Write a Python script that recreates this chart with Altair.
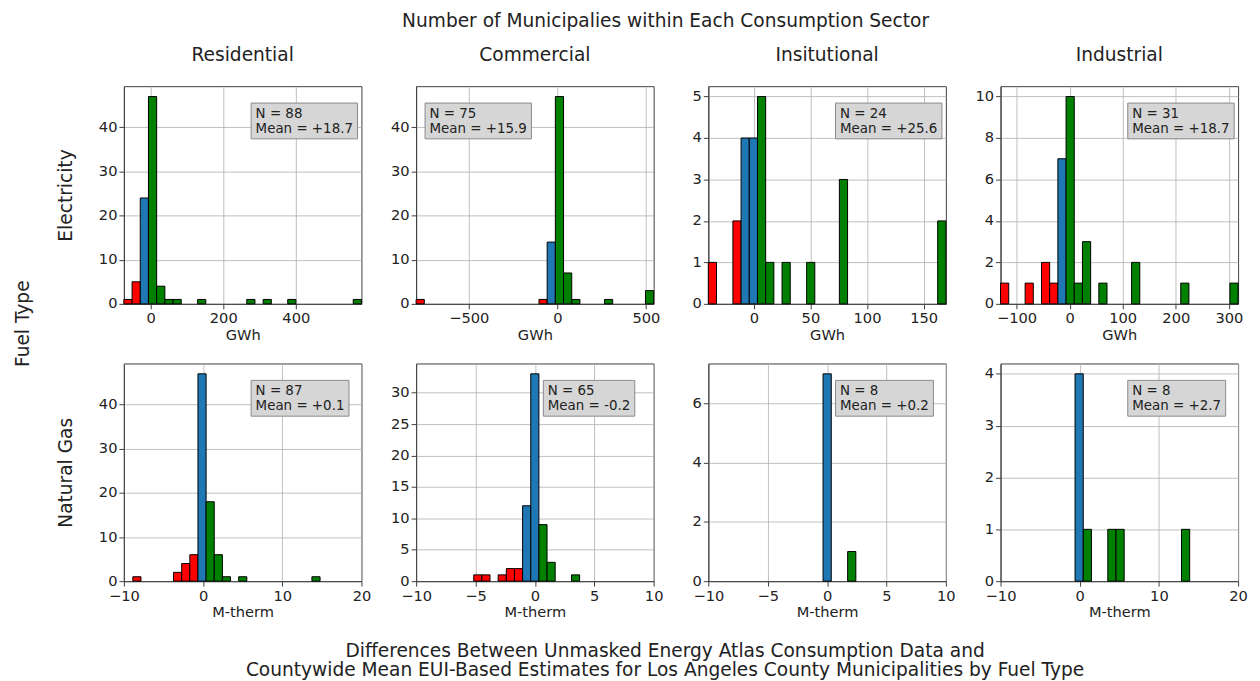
import altair as alt
import pandas as pd

FONT = "DejaVu Sans"
TXT = "#222222"

suptitle = "Number of Municipalies within Each Consumption Sector"
xlabel_lines = [
    "Differences Between Unmasked Energy Atlas Consumption Data and",
    "Countywide Mean EUI-Based Estimates for Los Angeles County Municipalities by Fuel Type",
]
sectors = ["Residential", "Commercial", "Insitutional", "Industrial"]
fuels = ["Electricity", "Natural Gas"]
units = ["GWh", "M-therm"]

# ---------------- Electricity (GWh): histogram edges and bin counts ----------------
elec_lo = [-74.0, -797.0, -40.2, -130.2]
elec_hi = [581.0, 544.0, 169.7, 317.4]
elec_res = [1, 5, 24, 47, 4, 1, 1, 0, 0, 1, 0, 0, 0, 0, 0, 1, 0, 1, 0, 0, 1, 0, 0, 0, 0, 0, 0, 0, 1]
elec_com = [1, 0, 0, 0, 0, 0, 0, 0, 0, 0, 0, 0, 0, 0, 0, 1, 14, 47, 7, 1, 0, 0, 0, 1, 0, 0, 0, 0, 3]
elec_inst = [1, 0, 0, 2, 4, 4, 5, 1, 0, 1, 0, 0, 1, 0, 0, 0, 3, 0, 0, 0, 0, 0, 0, 0, 0, 0, 0, 0, 2]
elec_ind = [1, 0, 0, 1, 0, 2, 1, 7, 10, 1, 3, 0, 1, 0, 0, 0, 2, 0, 0, 0, 0, 0, 1, 0, 0, 0, 0, 0, 1]
elec_blue = [[2], [16], [4, 5], [7]]
elec_n = [88, 75, 24, 31]
elec_mean = ["+18.7", "+15.9", "+25.6", "+18.7"]
elec_xticks = [[0, 200, 400], [-500, 0, 500], [0, 50, 100, 150], [-100, 0, 100, 200, 300]]
elec_yticks = [[0, 10, 20, 30, 40], [0, 10, 20, 30, 40], [0, 1, 2, 3, 4, 5], [0, 2, 4, 6, 8, 10]]

# ---------------- Natural Gas (M-therm): first edge, bin width and counts ----------------
gas_lo = [-8.87, -5.15, -0.34, -0.59]
gas_w = [1.028, 0.686, 0.69, 1.034]
gas_res = [1, 0, 0, 0, 0, 2, 4, 6, 47, 18, 6, 1, 0, 1, 0, 0, 0, 0, 0, 0, 0, 0, 1]
gas_com = [1, 1, 0, 1, 2, 2, 12, 33, 9, 3, 0, 0, 1]
gas_inst = [7, 0, 0, 1]
gas_ind = [4, 1, 0, 0, 1, 1, 0, 0, 0, 0, 0, 0, 0, 1]
gas_blue = [[8], [6, 7], [0], [0]]
gas_n = [87, 65, 8, 8]
gas_mean = ["+0.1", "-0.2", "+0.2", "+2.7"]
gas_xdom = [[-10, 20], [-10, 10], [-10, 10], [-10, 20]]
gas_xticks = [[-10, 0, 10, 20], [-10, -5, 0, 5, 10], [-10, -5, 0, 5, 10], [-10, 0, 10, 20]]
gas_yticks = [[0, 10, 20, 30, 40], [0, 5, 10, 15, 20, 25, 30], [0, 2, 4, 6], [0, 1, 2, 3, 4]]

box_left = [[128, 9, 128, 128], [128, 128, 128, 128]]

CW = {"N": 0.748, " ": 0.318, "=": 0.838, "M": 0.863, "e": 0.615, "a": 0.613, "n": 0.634,
      "+": 0.838, "-": 0.361, ".": 0.318}


def text_w(s, fs):
    return sum(CW.get(ch, 0.636) for ch in s) * fs


PW, PH = 239, 219
STAT_FS = 13.5


def panel(lo, w, counts, blue, xdom, xticks, yticks, unit, n, mean, bl,
          title=None, ytitle=None, extra=None):
    rows = []
    for i, c in enumerate(counts):
        if c == 0:
            continue
        cat = "neg" if i < min(blue) else ("mid" if i <= max(blue) else "pos")
        rows.append({"x0": lo + i * w, "x1": lo + (i + 1) * w, "n": c, "base": 0, "cat": cat})
    df = pd.DataFrame(rows)
    ymax = max(counts) * 1.05
    yaxis = alt.Axis(values=yticks, title=ytitle, titleFontSize=18.7, titlePadding=23) if ytitle \
        else alt.Axis(values=yticks, title=None)
    bars = alt.Chart(df).mark_bar(stroke="black", strokeWidth=1).encode(
        x=alt.X("x0:Q", scale=alt.Scale(domain=xdom, nice=False, zero=False),
                axis=alt.Axis(values=xticks, title=unit)),
        x2="x1:Q",
        y=alt.Y("n:Q", scale=alt.Scale(domain=[0, ymax], nice=False), axis=yaxis),
        y2="base:Q",
        color=alt.Color("cat:N", scale=alt.Scale(domain=["neg", "mid", "pos"],
                                                 range=["#ff0000", "#1f77b4", "#008000"]),
                        legend=None),
    )
    one = pd.DataFrame({"k": [0]})
    l1 = f"N = {n}"
    l2 = f"Mean = {mean}"
    bw = max(text_w(l1, STAT_FS), text_w(l2, STAT_FS)) + 9
    box = alt.Chart(one).mark_rect(fill="#d6d6d6", stroke="#8a8a8a", strokeWidth=1).encode(
        x=alt.value(bl), x2=alt.value(bl + bw), y=alt.value(17), y2=alt.value(53))
    t1 = alt.Chart(one).mark_text(text=l1, align="left", baseline="alphabetic", fontSize=STAT_FS,
                                  font=FONT, color=TXT).encode(x=alt.value(bl + 4.5), y=alt.value(32))
    t2 = alt.Chart(one).mark_text(text=l2, align="left", baseline="alphabetic", fontSize=STAT_FS,
                                  font=FONT, color=TXT).encode(x=alt.value(bl + 4.5), y=alt.value(47))
    layers = [bars, box, t1, t2]
    if extra:
        layers += extra
    ch = alt.layer(*layers).properties(width=PW, height=PH)
    if title:
        ch = ch.properties(title=alt.TitleParams(title, fontSize=18.7, fontWeight="normal",
                                                 font=FONT, color=TXT, offset=22))
    return ch


# figure-level texts, positioned relative to the lower-left panel (Natural Gas / Residential)
one = pd.DataFrame({"k": [0]})
fig_texts = [
    alt.Chart(one).mark_text(text=suptitle, fontSize=18.7, font=FONT, color=TXT,
                             align="center", baseline="middle").encode(x=alt.value(545), y=alt.value(-345)),
    alt.Chart(one).mark_text(text="Fuel Type", fontSize=18.7, font=FONT, color=TXT, angle=270,
                             align="center", baseline="middle").encode(x=alt.value(-101), y=alt.value(-40)),
    alt.Chart(one).mark_text(text=xlabel_lines[0], fontSize=18.7, font=FONT, color=TXT,
                             align="center", baseline="middle").encode(x=alt.value(544.5), y=alt.value(289)),
    alt.Chart(one).mark_text(text=xlabel_lines[1], fontSize=18.7, font=FONT, color=TXT,
                             align="center", baseline="middle").encode(x=alt.value(544.5), y=alt.value(308)),
]

elec_counts = [elec_res, elec_com, elec_inst, elec_ind]
gas_counts = [gas_res, gas_com, gas_inst, gas_ind]

panels = []
for j in range(4):
    w = (elec_hi[j] - elec_lo[j]) / len(elec_counts[j])
    panels.append(panel(elec_lo[j], w, elec_counts[j], elec_blue[j], [elec_lo[j], elec_hi[j]],
                        elec_xticks[j], elec_yticks[j], units[0], elec_n[j], elec_mean[j],
                        box_left[0][j], title=sectors[j],
                        ytitle=fuels[0] if j == 0 else None))
for j in range(4):
    panels.append(panel(gas_lo[j], gas_w[j], gas_counts[j], gas_blue[j], gas_xdom[j],
                        gas_xticks[j], gas_yticks[j], units[1], gas_n[j], gas_mean[j],
                        box_left[1][j], ytitle=fuels[1] if j == 0 else None,
                        extra=fig_texts if j == 0 else None))

chart = alt.concat(*panels, columns=4, spacing={"row": 60, "column": 55}, bounds="flush").properties(
    padding={"left": 5.6, "top": 0.6, "right": 4, "bottom": 0}
).configure(font=FONT).configure_view(
    stroke="#404040", strokeWidth=1
).configure_axis(
    labelFont=FONT, labelFontSize=14.7, labelColor=TXT, labelFlush=False, labelOverlap=False,
    labelPadding=2, tickSize=5, tickColor="#404040", domainColor="#404040",
    gridColor="#b0b0b0", gridWidth=0.8, titleFont=FONT, titleFontSize=14.7,
    titleFontWeight="normal", titleColor=TXT, titlePadding=2, zindex=1
)

chart.save("out.html", embed_options={"renderer": "svg", "actions": False})
